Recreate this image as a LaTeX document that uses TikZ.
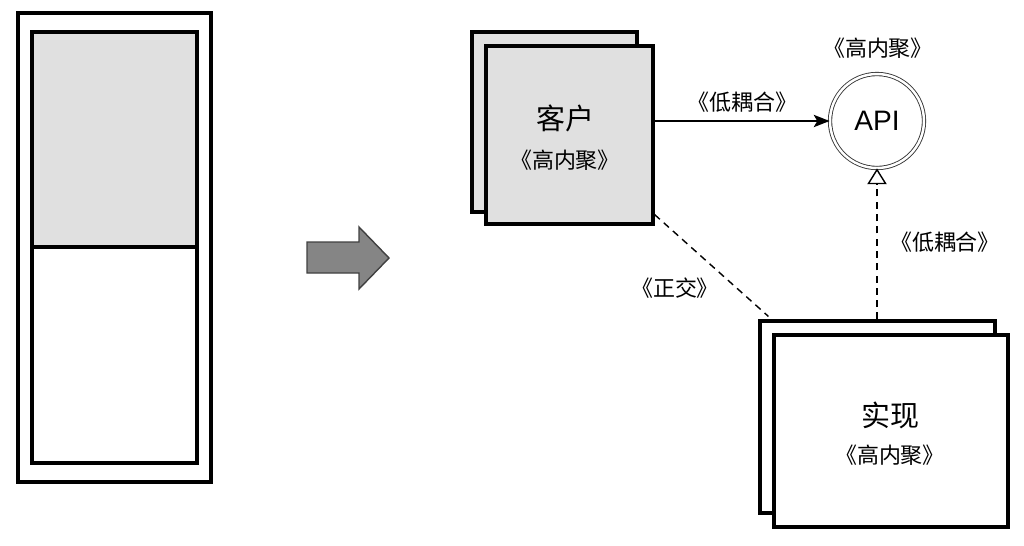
\documentclass[tikz,border=0pt]{standalone}
\usepackage{fontspec}
\setsansfont{Liberation Sans}
\newfontfamily\cjk{Noto Sans CJK SC}
\usepackage{tikz}
\usetikzlibrary{arrows.meta,positioning,calc}

\definecolor{boxgray}{HTML}{E0E0E0}
\tikzset{
	box/.style={draw=black, line width=1.8pt, inner sep=0pt},
	big/.style={font=\cjk\fontsize{16.5}{18}\selectfont},
	tag/.style={font=\cjk\fontsize{12.5}{14}\selectfont},
	link/.style={line width=0.8pt, dash pattern=on 4pt off 3pt}
}

\begin{document}
\begin{tikzpicture}[x=0.02cm,y=-0.02cm]
	\useasboundingbox (0,0) rectangle (1024,545);
	% the one module before splitting
	\draw[line width=1.8pt] (18,13) rectangle (211,482);
	\draw[line width=1.8pt, fill=boxgray] (32,32) rectangle (197,247);
	\draw[line width=1.8pt] (32,247) rectangle (197,463);
	% big arrow
	\draw[draw=black!75, line width=0.8pt, fill=black!48] (307,242) -- (359,242) -- (359,227) -- (389,258) -- (359,289) -- (359,273) -- (307,273) -- cycle;
	% client
	\node[box, fill=boxgray, minimum width=3.3cm, minimum height=3.6cm] (clientback) at (554.5,122) {};
	\node[box, fill=boxgray, minimum width=3.34cm, minimum height=3.56cm] (client) at (569.5,135) {};
	\node[big] (clientname) at (565,118) {客户};
	\node[tag] (clienttag) at (565,160) {《高内聚》};
	% api
	\node[circle, draw=black!80, double, double distance=1.4pt, line width=0.5pt, minimum size=1.88cm, font=\sffamily\fontsize{16}{18}\selectfont] (api) at (877,121) {API};
	\node[tag] (apitag) at (878,48) {《高内聚》};
	% implementation
	\node[box, fill=white, minimum width=4.7cm, minimum height=3.84cm] (implback) at (877.5,417) {};
	\node[box, fill=white, minimum width=4.68cm, minimum height=3.84cm] (impl) at (891,431) {};
	\node[big] (implname) at (890,415) {实现};
	\node[tag] (impltag) at (890,455) {《高内聚》};
	% connectors
	\draw[line width=1.1pt, -{Stealth[length=9pt, width=7pt, inset=2pt]}] (client.east |- api) -- (api.west) node[midway, above=1pt, tag]{《低耦合》};
	\draw[link, -{Triangle[open, length=9pt, width=11pt, line width=0.8pt]}] (implback.north -| api) -- (api.south);
	\node[tag] (lowtag) at (945,242) {《低耦合》};
	\coordinate (orthstart) at ($(client.south east)+(0,-11)$);
	\coordinate (orthend) at ($(implback.north west)+(10,-3)$);
	\draw[link] (orthstart) -- (orthend);
	\node[tag] (orthtag) at (675,288) {《正交》};
\end{tikzpicture}
\end{document}
